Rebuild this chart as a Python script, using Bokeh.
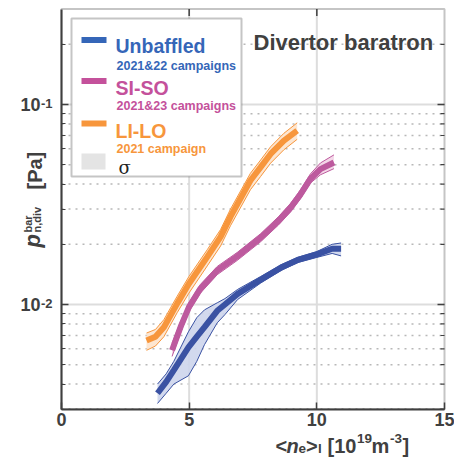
import math
from bokeh.plotting import figure
from bokeh.models import (Range1d, FixedTicker, BoxAnnotation, Label, CustomJSTickFormatter)
from bokeh.embed import file_html
from bokeh.resources import INLINE

# ---------------- data ----------------
UNB_X = [3.76, 4.10, 4.40, 4.97, 5.30, 5.60, 6.10, 6.40, 6.90, 7.80, 8.60, 9.25, 10.00, 10.60, 10.95]
UNB_Y = [0.0036, 0.0041, 0.0047, 0.0061, 0.0069, 0.0077, 0.0093, 0.0100, 0.0113, 0.0133, 0.0153, 0.0167, 0.0178, 0.0190, 0.0190]
UNB_HI = [0.0040, 0.0045, 0.0052, 0.0073, 0.0086, 0.0094, 0.0102, 0.0107, 0.0119, 0.0138, 0.0158, 0.0172, 0.0184, 0.0200, 0.0203]
UNB_LO = [0.0032, 0.0036, 0.0040, 0.0044, 0.0052, 0.0063, 0.0081, 0.0089, 0.0106, 0.0128, 0.0148, 0.0162, 0.0172, 0.0180, 0.0175]

SISO_X = [4.33, 4.66, 4.99, 5.44, 6.10, 6.88, 7.80, 8.50, 8.97, 9.36, 9.75, 10.14, 10.67]
SISO_Y = [0.0059, 0.0077, 0.0097, 0.0120, 0.0148, 0.0174, 0.0216, 0.0262, 0.0305, 0.0355, 0.0425, 0.0475, 0.0513]
SISO_HI = [0.0064, 0.0082, 0.0102, 0.0126, 0.0155, 0.0182, 0.0226, 0.0275, 0.0320, 0.0375, 0.0450, 0.0510, 0.0560]
SISO_LO = [0.0055, 0.0072, 0.0092, 0.0114, 0.0141, 0.0166, 0.0206, 0.0250, 0.0290, 0.0338, 0.0405, 0.0445, 0.0478]

LILO_X = [3.33, 3.68, 4.01, 4.53, 4.99, 5.71, 6.23, 6.62, 7.40, 7.80, 8.19, 8.71, 9.23]
LILO_Y = [0.0066, 0.0069, 0.0077, 0.0101, 0.0127, 0.0173, 0.0218, 0.0275, 0.0417, 0.0486, 0.0566, 0.0660, 0.0741]
LILO_HI = [0.0072, 0.0075, 0.0084, 0.0110, 0.0138, 0.0188, 0.0237, 0.0300, 0.0453, 0.0528, 0.0615, 0.0718, 0.0810]
LILO_LO = [0.0059, 0.0062, 0.0069, 0.0091, 0.0114, 0.0156, 0.0196, 0.0248, 0.0375, 0.0437, 0.0509, 0.0594, 0.0670]

SERIES_NAMES = ["Unbaffled", "SI-SO", "LI-LO"]
SERIES_SUB = ["2021&22 campaigns", "2021&23 campaigns", "2021 campaign"]
XTICKS = [0, 5, 10, 15]
YTICKS = [0.01, 0.1]
YTICK_EXP = ["-2", "-1"]
TITLE = "Divertor baratron"

# ---------------- styling ----------------
FONT = "Liberation Sans"
DARK = "#404040"
GRID = "#dddddd"
BLUE, BLUE_F, BLUE_L = "#3a52a3", "#cdd5ec", "#3566b8"
MAG, MAG_F, MAG_L = "#bd5a9e", "#f3d3e6", "#c4519b"
ORA, ORA_F, ORA_L = "#f7963c", "#fde3cc", "#f7963c"

X0, X1 = 0, 15          # data box
Y0, Y1 = 0.003, 0.3

# pixel <-> data helpers (canvas pixels); data box spans px 61..444, py 8.6..408.6
PXU = 383 / 15
PXD = 200
W, H = 454, 457


def X(px):
    return (px - 61) / PXU


def Y(py):
    return 10 ** (-1 - (py - 104) / PXD)


# the frame fills the canvas so that texts around the data box are not clipped
p = figure(width=W, height=H, x_range=Range1d(X(0), X(W)), y_range=Range1d(Y(H), Y(0)),
           y_axis_type="log", output_backend="svg", toolbar_location=None,
           min_border_left=0, min_border_right=0, min_border_top=0, min_border_bottom=0)
p.background_fill_color = "white"
p.border_fill_color = "white"
p.outline_line_color = None
p.xgrid.visible = False
p.ygrid.visible = False

minor = [m * 10.0 ** e for e in (-3, -2, -1) for m in range(2, 10)]
minor = [m for m in minor if Y0 <= m <= Y1]
yt = FixedTicker(ticks=YTICKS, minor_ticks=minor)
xt = FixedTicker(ticks=XTICKS)

# ---------------- grid (under the data) ----------------
p.segment(x0=[X0] * len(minor), x1=[X1] * len(minor), y0=minor, y1=minor,
          line_color="#b8b8b8", line_width=1.5, line_dash="2 5")
p.segment(x0=[X0] * len(YTICKS), x1=[X1] * len(YTICKS), y0=YTICKS, y1=YTICKS,
          line_color=GRID, line_width=2)
p.segment(x0=XTICKS[1:-1], x1=XTICKS[1:-1], y0=[Y0] * 2, y1=[Y1] * 2,
          line_color=GRID, line_width=2)


def style_axis(ax):
    ax.axis_line_color = DARK
    ax.axis_line_width = 2
    ax.major_tick_line_color = DARK
    ax.major_tick_line_width = 1.5
    ax.minor_tick_line_color = DARK
    ax.minor_tick_line_width = 1.2
    ax.major_tick_in = 7
    ax.major_tick_out = 0
    ax.minor_tick_in = 4
    ax.minor_tick_out = 0
    ax.major_label_text_font = FONT
    ax.major_label_text_font_size = "18px"
    ax.major_label_text_font_style = "bold"
    ax.major_label_text_color = DARK


xa = p.xaxis[0]
xa.ticker = xt
style_axis(xa)
xa.fixed_location = Y0
xa.bounds = (X0, X1)
xa.major_label_standoff = 4

ya = p.yaxis[0]
ya.ticker = yt
style_axis(ya)
ya.fixed_location = X0
ya.bounds = (Y0, Y1)
ya.formatter = CustomJSTickFormatter(code='return "10"')
ya.major_label_standoff = 21

# ---------------- data marks ----------------
for xs, ys, hi, lo, c, f in [(UNB_X, UNB_Y, UNB_HI, UNB_LO, BLUE, BLUE_F),
                              (SISO_X, SISO_Y, SISO_HI, SISO_LO, MAG, MAG_F),
                              (LILO_X, LILO_Y, LILO_HI, LILO_LO, ORA, ORA_F)]:
    p.varea(x=xs, y1=lo, y2=hi, fill_color=f, fill_alpha=0.9)
    p.line(xs, hi, line_color=c, line_width=1)
    p.line(xs, lo, line_color=c, line_width=1)
    p.line(xs, ys, line_color=c, line_width=6)

# box outline + inward ticks on the right and top edges
p.add_layout(BoxAnnotation(left=X0, right=X1, bottom=Y0, top=Y1, fill_alpha=0,
                           line_color=DARK, line_width=2))
p.segment(x0=[X1] * len(YTICKS), x1=[X1 - 7 / PXU] * len(YTICKS), y0=YTICKS, y1=YTICKS,
          line_color=DARK, line_width=1.5)
p.segment(x0=[X1] * len(minor), x1=[X1 - 4 / PXU] * len(minor), y0=minor, y1=minor,
          line_color=DARK, line_width=1.2)
p.segment(x0=XTICKS[1:-1], x1=XTICKS[1:-1], y0=[Y1] * 2, y1=[Y1 * 10 ** (-7 / PXD)] * 2,
          line_color=DARK, line_width=1.5)


def lab(txt, px, py, size, color=DARK, style="bold", align="left", baseline="alphabetic",
        angle=0.0, font=FONT):
    p.add_layout(Label(x=X(px), y=Y(py), text=txt, text_font=font, text_font_size=f"{size}px",
                       text_font_style=style, text_color=color, text_align=align,
                       text_baseline=baseline, angle=angle))


# legend box
p.add_layout(BoxAnnotation(left=X(71), right=X(241), top=Y(18), bottom=Y(176),
                           fill_color="white", fill_alpha=1, line_color=DARK, line_width=2))
leg_cols = [BLUE_L, MAG_L, ORA_L]
leg_line_y = [39.5, 80.5, 123]
leg_name_y = [45, 87, 130]
leg_sub_y = [65, 105, 148]
for name, sub, col, ly, ny, sy in zip(SERIES_NAMES, SERIES_SUB, leg_cols, leg_line_y, leg_name_y, leg_sub_y):
    p.add_layout(BoxAnnotation(left=X(81), right=X(106), top=Y(ly - 3), bottom=Y(ly + 3),
                               fill_color=col, fill_alpha=1, line_alpha=0))
    lab(name, 115, ny, 19.5, color=col)
    lab(sub, 116, sy, 12.5, color=col)
p.add_layout(BoxAnnotation(left=X(81), right=X(105), top=Y(153), bottom=Y(169),
                           fill_color="#e4e4e4", fill_alpha=1, line_alpha=0))
lab("σ", 118, 167, 18, color="#222222", style="normal", font="DejaVu Serif")

# title inside plot
lab(TITLE, 253, 42, 22)

# y tick label exponents
for t, e in zip(YTICKS, YTICK_EXP):
    py = 104 - PXD * (math.log10(t) + 1)
    lab(e, 40.5, py - 1, 13)

# x axis label: <n_e>_l [10^19 m^-3]
lab("<", 275, 445, 20)
lab("n", 286, 445, 20, style="bold italic")
lab("e", 298, 448, 13.5)
lab(">", 305.5, 445, 20)
lab("l", 317.5, 448, 13.5)
lab("[10", 327, 445, 20)
lab("19", 356.5, 438, 13.5)
lab("m", 371, 445, 20)
lab("-3", 389.5, 438, 13.5)
lab("]", 402, 445, 20)

# y axis label: p^bar_{n,div} [Pa]  (rotated)
A = math.pi / 2
lab("p", 32, 247, 22, style="bold italic", angle=A)
lab("bar", 27, 232, 11, angle=A)
lab("n,div", 36.5, 232, 11, angle=A)
lab("[Pa]", 34, 189, 20, angle=A)

open("out.html", "w").write(file_html(p, INLINE))
